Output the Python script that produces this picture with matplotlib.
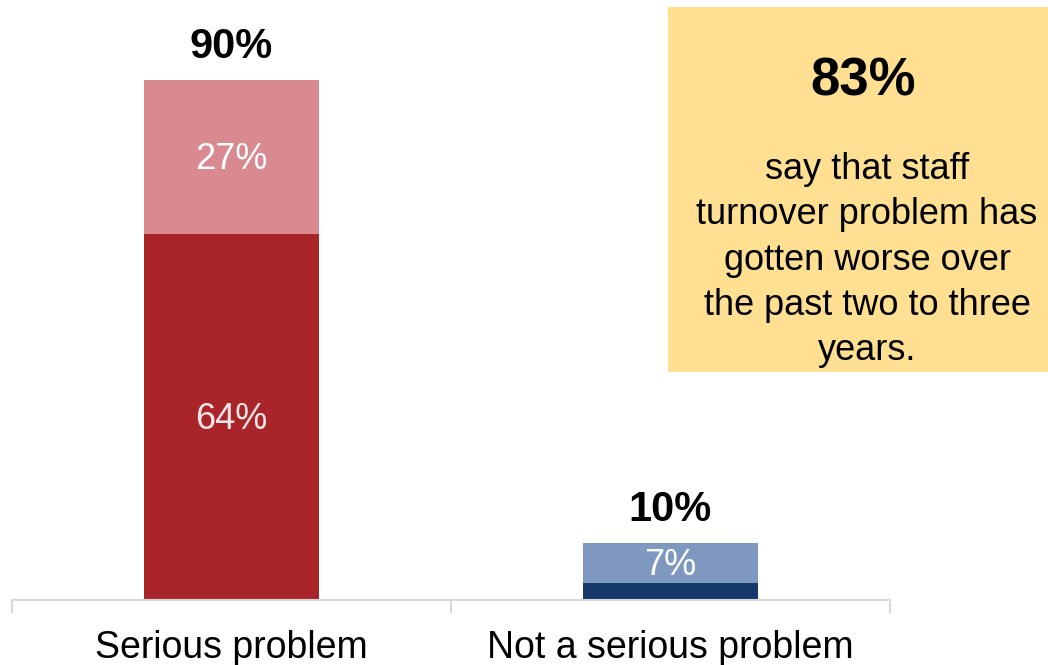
import matplotlib
matplotlib.use("Agg")
import matplotlib.pyplot as plt
from matplotlib.patches import Rectangle

plt.rcParams['font.family'] = ['Liberation Sans', 'DejaVu Sans']

categories = ["Serious problem", "Not a serious problem"]
# lower (darker) and upper (lighter) segments of each bar
bottom_values = [64, 3]
top_values = [27, 7]
top_labels = ["27%", "7%"]
bottom_labels = ["64%", ""]
totals = ["90%", "10%"]
callout_value = "83%"
callout_text = ("say that staff\nturnover problem has\ngotten worse over\n"
                "the past two to three\nyears.")

bottom_colors = ["#A9252A", "#14396A"]
top_colors = ["#D88A90", "#7F98C0"]

W, H = 1048, 665
fig = plt.figure(figsize=(W / 100, H / 100), dpi=100)
ax = fig.add_axes([12 / W, 65 / H, 878 / W, 600 / H])

x = list(range(len(categories)))
width = 0.4
ax.bar(x, bottom_values, width, color=bottom_colors, zorder=2)
ax.bar(x, top_values, width, bottom=bottom_values, color=top_colors, zorder=2)

for i in x:
    b, t = bottom_values[i], top_values[i]
    if bottom_labels[i]:
        ax.annotate(bottom_labels[i], (i, b / 2), xytext=(0, -2),
                    textcoords="offset points", ha="center", va="center",
                    color="#F2E6E6", fontsize=26)
    ax.annotate(top_labels[i], (i, b + t / 2), xytext=(0, -2),
                textcoords="offset points", ha="center", va="center",
                color="white", fontsize=26)
    ax.annotate(totals[i], (i, b + t), xytext=(0, 24), textcoords="offset points",
                ha="center", va="center", fontsize=30, fontweight="bold",
                color="black")

ax.set_xlim(-0.5, 1.5)
ax.set_ylim(0, 600 / 5.714)
ax.set_yticks([])
for s in ["top", "right", "left"]:
    ax.spines[s].set_visible(False)
ax.spines["bottom"].set_color("#D9D9D9")
ax.spines["bottom"].set_linewidth(1.5)
ax.set_xticks([-0.5, 0.5, 1.5], minor=False)
ax.set_xticklabels([])
ax.tick_params(axis="x", which="major", length=9, width=1.5, color="#D9D9D9",
               direction="out")
for i, c in enumerate(categories):
    ax.text(i, -48 / 5.714, c, ha="center", va="center", fontsize=27,
            color="black", transform=ax.transData, clip_on=False)

# callout box
fig.patches.append(Rectangle((668 / W, (H - 372) / H), 380 / W, 365 / H,
                             transform=fig.transFigure, facecolor="#FFDF91",
                             edgecolor="none", zorder=0))
fig.text(863 / W, 1 - 82 / H, callout_value, ha="center", va="center",
         fontsize=38, fontweight="bold", color="black")
fig.text(867 / W, 1 - 260 / H, callout_text, ha="center", va="center",
         fontsize=26, color="black", linespacing=1.38)

fig.savefig("out.png", dpi=100)
